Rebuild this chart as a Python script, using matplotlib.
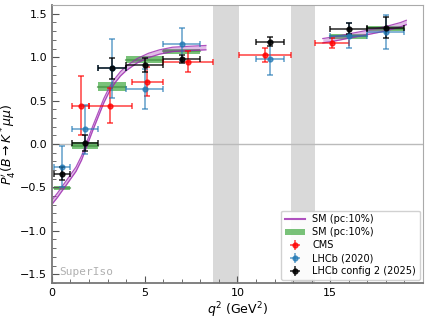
import numpy as np
import matplotlib
matplotlib.use("Agg")
import matplotlib.pyplot as plt
from matplotlib.patches import Patch
from matplotlib.lines import Line2D

# SM prediction (curve), low and high q2 regions
sm_low_q2 = [0.0, 0.3, 0.6, 1.0, 1.3, 1.6, 1.9, 2.2, 2.5, 2.8, 3.1, 3.4, 3.7, 4.0, 4.6, 5.2, 5.8, 6.5, 7.3, 8.3]
sm_low_p4 = [-0.67, -0.59, -0.50, -0.38, -0.29, -0.16, 0.01, 0.18, 0.34, 0.50, 0.63, 0.73, 0.81, 0.87, 0.96, 1.02, 1.06, 1.09, 1.10, 1.11]
sm_high_q2 = [14.6, 15.2, 15.8, 16.4, 17.0, 17.6, 18.2, 18.8, 19.1]
sm_high_p4 = [1.19, 1.21, 1.235, 1.26, 1.285, 1.31, 1.34, 1.375, 1.40]
sm_band = 0.025

# SM binned predictions
smb_lo = [0.1, 1.1, 2.5, 4.0, 6.0, 15.0, 17.0]
smb_hi = [0.98, 2.5, 4.0, 6.0, 8.0, 17.0, 19.0]
smb_val = [-0.51, -0.02, 0.66, 0.97, 1.07, 1.24, 1.33]
smb_err = [0.025, 0.04, 0.05, 0.04, 0.03, 0.03, 0.025]

# CMS
cms_lo = [1.1, 2.0, 4.3, 6.0, 10.09, 14.18]
cms_hi = [2.0, 4.3, 6.0, 8.68, 12.86, 16.0]
cms_val = [0.44, 0.44, 0.72, 0.95, 1.03, 1.165]
cms_err = [0.34, 0.20, 0.17, 0.12, 0.08, 0.06]

# LHCb (2020)
lhcb_lo = [0.1, 1.1, 2.5, 4.0, 6.0, 11.0, 15.0, 17.0]
lhcb_hi = [0.98, 2.5, 4.0, 6.0, 8.0, 12.5, 17.0, 19.0]
lhcb_val = [-0.26, 0.17, 0.87, 0.63, 1.15, 0.985, 1.25, 1.29]
lhcb_err = [0.24, 0.28, 0.34, 0.23, 0.19, 0.19, 0.14, 0.20]

# LHCb config 2 (2025)
lhcb25_lo = [0.1, 1.1, 2.5, 4.0, 6.0, 11.0, 15.0, 17.0]
lhcb25_hi = [0.98, 2.5, 4.0, 6.0, 8.0, 12.5, 17.0, 19.0]
lhcb25_val = [-0.34, 0.01, 0.87, 0.91, 0.98, 1.18, 1.33, 1.34]
lhcb25_err = [0.08, 0.09, 0.12, 0.08, 0.05, 0.055, 0.06, 0.12]

vetoes = [(8.68, 10.09), (12.86, 14.18)]

purple = '#9c27b0'
green = '#4cae4c'


def centers(lo, hi):
    lo, hi = np.array(lo), np.array(hi)
    return (lo + hi) / 2, (hi - lo) / 2


fig = plt.figure(figsize=(4.29, 3.2), dpi=100)
ax = fig.add_axes([0.121, 0.116, 0.865, 0.868])

for a, b in vetoes:
    ax.axvspan(a, b, color='#d9d9d9', lw=0, zorder=0)
ax.axhline(0, color='#bbbbbb', lw=1, zorder=0.5)

# binned SM
for lo, hi, v, e in zip(smb_lo, smb_hi, smb_val, smb_err):
    ax.fill_between([lo, hi], v - e, v + e, color=green, alpha=0.75, lw=0, zorder=1)
    ax.plot([lo, hi], [v, v], color='#3d8f3d', lw=1.5, alpha=0.6, zorder=1)

# SM curve
for q, p in [(sm_low_q2, sm_low_p4), (sm_high_q2, sm_high_p4)]:
    q, p = np.array(q), np.array(p)
    ax.fill_between(q, p - sm_band, p + sm_band, color=purple, alpha=0.3, lw=0, zorder=2)
    ax.plot(q, p - sm_band, color=purple, lw=0.9, alpha=0.8, zorder=2)
    ax.plot(q, p + sm_band, color=purple, lw=0.9, alpha=0.8, zorder=2)

kw = dict(fmt='o', ms=3.5, capsize=2, elinewidth=1.1, capthick=1.1, zorder=3)
x, xe = centers(cms_lo, cms_hi)
ax.errorbar(x, cms_val, yerr=cms_err, xerr=xe, color='red', alpha=0.75, **kw)
x, xe = centers(lhcb_lo, lhcb_hi)
ax.errorbar(x, lhcb_val, yerr=lhcb_err, xerr=xe, color='#1f77b4', alpha=0.7, **kw)
x, xe = centers(lhcb25_lo, lhcb25_hi)
ax.errorbar(x, lhcb25_val, yerr=lhcb25_err, xerr=xe, color='black', alpha=0.85, **kw)

ax.set_xlim(0, 20)
ax.set_ylim(-1.6, 1.6)
ax.set_xticks([0, 5, 10, 15])
ax.set_yticks([-1.5, -1.0, -0.5, 0.0, 0.5, 1.0, 1.5])
ax.set_xticks(np.arange(0, 20, 1), minor=True)
ax.set_yticks(np.arange(-1.6, 1.61, 0.1), minor=True)
ax.tick_params(which='both', direction='in', labelsize=8, color='#555555')
ax.tick_params(which='major', length=5)
ax.tick_params(which='minor', length=3)
for s in ['left', 'bottom']:
    ax.spines[s].set_color('#777777')
    ax.spines[s].set_linewidth(1.3)
for s in ['top', 'right']:
    ax.spines[s].set_color('#aaaaaa')

ax.set_xlabel(r'$q^2$ (GeV$^2$)', fontsize=9, labelpad=2)
ax.set_ylabel(r"$P_4'(B\to K^*\mu\mu)$", fontsize=9, labelpad=1)
ax.text(0.02, 0.03, 'SuperIso', transform=ax.transAxes, family='DejaVu Sans Mono',
        fontsize=8, color='#b0b0b0')

# legend
h_line = Line2D([], [], color=purple, lw=1.5, alpha=0.8)
h_band = Patch(color=green, alpha=0.75, lw=0)
h_cms = ax.errorbar([], [], yerr=[], xerr=[], color='red', alpha=0.75, **kw)
h_lhcb = ax.errorbar([], [], yerr=[], xerr=[], color='#1f77b4', alpha=0.7, **kw)
h_lhcb25 = ax.errorbar([], [], yerr=[], xerr=[], color='black', alpha=0.85, **kw)
ax.legend([h_line, h_band, h_cms, h_lhcb, h_lhcb25],
          ['SM (pc:10%)', 'SM (pc:10%)', 'CMS', 'LHCb (2020)', 'LHCb config 2 (2025)'],
          loc='lower right', fontsize=7, handlelength=2, borderpad=0.4, labelspacing=0.3,
          handletextpad=0.8, framealpha=0.9, borderaxespad=0.3)

fig.savefig('out.png', dpi=100)
